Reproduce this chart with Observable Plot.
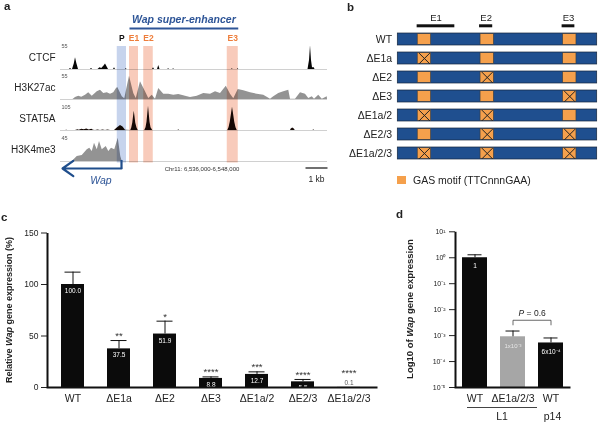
<!DOCTYPE html>
<html><head><meta charset="utf-8">
<script src="https://cdn.jsdelivr.net/npm/d3@7"></script>
<script src="https://cdn.jsdelivr.net/npm/@observablehq/plot@0.6"></script>
<style>
body{margin:0;background:#fff;}
#fig{position:relative;width:600px;height:425px;overflow:hidden;font-family:Arial,"Liberation Sans",sans-serif;color:#222;background:#fff;}
#fig .p{position:absolute;}
#fig .lab{position:absolute;white-space:nowrap;line-height:1;}
.pc [aria-label^="y-axis"] text{font-size:8.5px;}
.pd [aria-label^="y-axis"] text{font-size:7px;}
</style></head><body><div id="fig"></div>
<script>
// ---------------- DATA ----------------
// Panel a: genome tracks (x in 100-bp-ish bins across Chr11: 6,536,000-6,548,000)
const trackSpan = 106.8;
const binsPerKb = 8.8;
const trackNames = ["CTCF", "H3K27ac", "STAT5A", "H3K4me3"];
const trackMax = [55, 55, 105, 45];
const ctcfSignal = [[0,0],[3.5,0],[4,2],[4.5,0],[4.8,0],[5.5,12],[6,26],[6.5,14],[7.2,0],[12,0],[12.4,3],[12.8,0],[15,0],[15.8,4],[16.5,2],[17.5,8],[18,12],[18.6,6],[19.2,0],[21.2,0],[21.6,4],[22,0],[26,0],[26.3,2],[26.6,0],[36.8,0],[37.2,4],[37.6,0],[38.8,0],[39.3,9],[39.8,0],[43,0],[43.2,3],[43.5,0],[45,0],[45.2,2],[45.5,0],[68.5,0],[68.7,2],[69,0],[70.8,0],[71,2],[71.3,0],[99,0],[99.6,20],[100,52],[100.4,20],[100.8,4],[101.5,4],[101.8,0],[106.8,0]];
const h3k27acSignal = [[0,0],[5,0],[6,4.4],[7.3,7.3],[8.5,5],[10,9.5],[11.3,14.7],[12.7,7.3],[14.7,16.9],[16,20.5],[17.3,13.2],[18.7,14.7],[20,11.7],[21.3,14.7],[22.4,24.2],[22.9,26.4],[24.7,5.9],[25.7,1.5],[26.7,28],[27.6,51],[29.3,13.2],[30.3,2.2],[32,39],[33.7,20.5],[35.3,2.2],[36.7,9.5],[38,0.5],[39.3,24.2],[41.3,11.7],[43.3,11.7],[45.3,9.5],[47.3,11],[50,7.3],[52,4.4],[54.7,7.3],[57.3,13.2],[60,11.7],[62,16.9],[64,13.2],[66.3,29.3],[68,11.7],[69.3,1.5],[71.1,22],[73.3,19.1],[76,14.7],[78.7,11.7],[81.3,9.5],[84,0.5],[85.3,5.9],[87.3,13.2],[89.3,16.9],[91.3,20.5],[92,0.5],[94,0.5],[96,14.7],[98,11.7],[99.3,2.2],[100.7,5.9],[101.6,0.5],[103.3,9.5],[104.7,0.5],[106.7,5.9],[106.8,0]];
const stat5aSignal = [[0,0],[2,0],[2.5,1.5],[3,0],[6,0],[7,3],[7.5,1],[8.5,5],[9.5,3],[10.5,6],[11.5,2],[12.5,5],[13.2,1],[14,0],[15,2],[16,0],[17,2],[18,0],[19,2],[20,0.5],[21.6,0.5],[22.7,11],[24,21],[25,15],[26,1],[28.1,0],[28.5,10],[28.9,30],[29.3,65],[29.5,81],[29.7,65],[30.1,30],[30.6,10],[31.1,0],[33.7,0],[34.2,12],[34.6,35],[35,80],[35.2,102],[35.4,80],[35.8,35],[36.2,12],[36.9,0],[47,0],[47.3,3],[47.6,0],[66.9,0],[67.4,12],[67.9,35],[68.5,78],[68.8,98],[69.1,78],[69.7,35],[70.2,12],[70.7,0],[92,0],[92.3,6],[92.9,11],[93.5,6],[93.9,0],[101,0],[101.3,3],[101.6,0],[106.8,0]];
const h3k4me3Signal = [[0,0],[4.7,0],[6.7,9],[8.7,10.8],[10.7,21],[11.7,24],[12.7,18],[13.6,33],[14.7,21],[15.6,36],[16.7,21],[18.3,27],[19.3,18],[20.4,24],[21.7,21],[23.1,42],[24.1,9],[24.7,0],[106.8,0]];
const features = [
  {name: "P", kind: "promoter", start: 22.7, end: 26.4},
  {name: "E1", kind: "enhancer", start: 27.6, end: 31.2},
  {name: "E2", kind: "enhancer", start: 33.3, end: 37.1},
  {name: "E3", kind: "enhancer", start: 66.7, end: 71.1}
];
const gene = {name: "Wap", tss: 24.4, end: 0.8};
const chrLabel = "Chr11: 6,536,000-6,548,000";

// Panel b: deletion schematic (positions along the super-enhancer, 0-100)
const rows = ["WT", "ΔE1a", "ΔE2", "ΔE3", "ΔE1a/2", "ΔE2/3", "ΔE1a/2/3"];
const elementSpans = [{name: "E1", start: 9.7, end: 28.6}, {name: "E2", start: 41.0, end: 47.6}, {name: "E3", start: 82.4, end: 88.8}];
const gasMotifs = [{element: "E1", start: 10.0, end: 16.7}, {element: "E2", start: 41.5, end: 48.2}, {element: "E3", start: 82.9, end: 89.6}];
const deletions = [[], ["E1"], ["E2"], ["E3"], ["E1", "E2"], ["E2", "E3"], ["E1", "E2", "E3"]];
const legendText = "GAS motif (TTCnnnGAA)";

// Panel c: relative Wap expression (%)
const cValues = [100.0, 37.5, 51.9, 8.8, 12.7, 5.5, 0.1];
const cUpper = [112, 45.6, 64.4, 10.3, 15.2, 7.8, null];
const cValueLabels = ["100.0", "37.5", "51.9", "8.8", "12.7", "5.5", "0.1"];
const cStars = ["", "**", "*", "****", "***", "****", "****"];
const cTicks = [0, 50, 100, 150];

// Panel d: log10 Wap expression
const dCats = ["WT|L1", "ΔE1a/2/3|L1", "WT|p14"];
const dValues = [1, 9e-4, 5.2e-4];
const dUpper = [1.3, 1.5e-3, 8.1e-4];
const dValueLabels = ["1", "1x10⁻³", "6x10⁻⁴"];
const dTicks = [10, 1, 0.1, 0.01, 0.001, 1e-4, 1e-5];
const dTickLabels = ["10¹", "10⁰", "10⁻¹", "10⁻²", "10⁻³", "10⁻⁴", "10⁻⁵"];
const pBracket = {from: "ΔE1a/2/3|L1", to: "WT|p14", level: 3.9e-3, foot: 2.5e-3, p: "0.6"};

// ---------------- LAYOUT ----------------
const blue = "#2e5597", orange = "#ee7e3c", navy = "#1f4f8f";
const fig = document.getElementById("fig");
const baseStyle = "font-family: Arial, 'Liberation Sans', sans-serif; background: transparent; overflow: visible; font-size: 10px; color: #222;";
function place(svg, left, top, width, cls, extra) {
  const d = document.createElement("div");
  d.className = "p " + (cls || "");
  d.style.left = left + "px"; d.style.top = top + "px"; d.style.width = width + "px";
  if (extra) d.style.cssText += extra;
  d.appendChild(svg); fig.appendChild(d);
}
function label(html, left, top, css) {
  const d = document.createElement("div");
  d.className = "lab"; d.innerHTML = html;
  d.style.left = left + "px"; d.style.top = top + "px";
  if (css) d.style.cssText += css;
  fig.appendChild(d);
}

// Panel letters
label("a", 4, 0.5, "font-weight:bold;font-size:11.5px;");
label("b", 347, 1.5, "font-weight:bold;font-size:11.5px;");
label("c", 1, 211.5, "font-weight:bold;font-size:11.5px;");
label("d", 396, 209, "font-weight:bold;font-size:11.5px;");

// ---- Panel a ----
const aCommon = {width: 340, marginLeft: 60, marginRight: 13, x: {domain: [0, trackSpan], axis: null}, style: baseStyle};
const promoters = features.filter(d => d.kind === "promoter");
const enhancers = features.filter(d => d.kind === "enhancer");
const superEnh = {label: "Wap super-enhancer", start: enhancers[0].start, end: enhancers[enhancers.length - 1].end};

place(Plot.plot({...aCommon, height: 45, marginTop: 0, marginBottom: 0,
  y: {domain: [0, 45], range: [0, 45], axis: null},
  marks: [
    Plot.text([superEnh], {x: d => (d.start + d.end) / 2, y: () => 19.5, text: "label", fontWeight: "bold", fontStyle: "italic", fill: blue, fontSize: 10.5}),
    Plot.link([superEnh], {x1: "start", x2: "end", y1: () => 28, y2: () => 28, stroke: blue, strokeWidth: 2}),
    Plot.text(promoters, {x: d => (d.start + d.end) / 2, y: () => 37.5, text: "name", fill: "#111", fontWeight: "bold", fontSize: 8.5}),
    Plot.text(enhancers, {x: d => (d.start + d.end) / 2, y: () => 37.5, text: "name", fill: orange, fontWeight: "bold", fontSize: 8.5})
  ]}), 0, 0, 340);

place(Plot.plot({...aCommon, height: 116.5, marginTop: 0, marginBottom: 0,
  marks: [
    Plot.barX(promoters, {x1: "start", x2: "end", fill: "#c7d4ed"}),
    Plot.barX(enhancers, {x1: "start", x2: "end", fill: "#f8cbbb"})
  ]}), 0, 45.5, 340);

const trackSignals = [ctcfSignal, h3k27acSignal, stat5aSignal, h3k4me3Signal];
const trackColors = ["#050505", "#939393", "#160a06", "#939393"];
const trackTops = [39.3, 69.3, 100, 130.5];
trackNames.forEach((name, i) => {
  place(Plot.plot({...aCommon, height: 30, marginTop: 5, marginBottom: 0,
    style: baseStyle + " mix-blend-mode: multiply;",
    y: {domain: [0, trackMax[i]], axis: null},
    marks: [
      Plot.ruleY([0], {stroke: "#c4c4c4", strokeWidth: 0.8}),
      Plot.areaY(trackSignals[i], {x: d => d[0], y: d => d[1], fill: trackColors[i], curve: "linear"}),
      Plot.text([name], {text: d => d, frameAnchor: "left", dx: -5, dy: 1, textAnchor: "end", fontSize: 10, fill: "#222"}),
      Plot.text([trackMax[i]], {text: d => String(d), frameAnchor: "top-left", dx: 1, textAnchor: "start", lineAnchor: "top", fontSize: 5.5, fill: "#555"})
    ]}), 0, trackTops[i], 340, "", "mix-blend-mode:multiply;");
});

const scaleBar = {start: trackSpan - binsPerKb, end: trackSpan, label: "1 kb"};
place(Plot.plot({...aCommon, height: 26, marginTop: 0, marginBottom: 0,
  y: {domain: [0, 26], range: [0, 26], axis: null},
  marks: [
    Plot.ruleX([gene], {x: "tss", y1: () => -1, y2: () => 7.5, stroke: "#1f4e8c", strokeWidth: 2.2}),
    Plot.arrow([gene], {x1: "tss", x2: "end", y1: () => 7, y2: () => 7, stroke: "#1f4e8c", strokeWidth: 2.2, headLength: 9, headAngle: 70}),
    Plot.text([gene], {x: d => (d.tss + d.end) / 2, dx: 9, y: () => 19, text: "name", fontStyle: "italic", fill: blue, fontSize: 10.5}),
    Plot.text([chrLabel], {text: d => d, frameAnchor: "top", dx: 8, dy: 7.3, lineAnchor: "middle", fontSize: 6, fill: "#333"}),
    Plot.link([scaleBar], {x1: "start", x2: "end", y1: () => 6.5, y2: () => 6.5, stroke: "#111", strokeWidth: 1.2}),
    Plot.text([scaleBar], {x: d => (d.start + d.end) / 2, y: () => 17.5, text: "label", fontSize: 8.5, fill: "#222"})
  ]}), 0, 161, 340);

// ---- Panel b ----
const HEADER = " ";
const cells = rows.flatMap((r, i) => gasMotifs.map(m => ({row: r, ...m, deleted: deletions[i].includes(m.element)})));
place(Plot.plot({width: 260, height: 166, marginLeft: 57.3, marginRight: 3.3, marginTop: 10, marginBottom: 3.4,
  style: baseStyle + " font-size: 10.5px;",
  x: {domain: [0, 100], axis: null},
  y: {domain: [HEADER, ...rows], paddingInner: 0.353, paddingOuter: 0.192, align: 0.5, tickSize: 0, tickPadding: 5.6, label: null, tickFormat: d => d === HEADER ? "" : d},
  marks: [
    Plot.barX(elementSpans, {x1: "start", x2: "end", y: () => HEADER, insetTop: 10.3, insetBottom: -1.3, fill: "#111"}),
    Plot.text(elementSpans, {x: d => (d.start + d.end) / 2, y: () => HEADER, dy: -2.5, text: "name", fontSize: 9.5, fill: "#222"}),
    Plot.barX(rows, {x1: () => 0, x2: () => 100, y: d => d, fill: navy, stroke: "#14253d", strokeWidth: 0.7}),
    Plot.barX(cells, {x1: "start", x2: "end", y: "row", insetTop: 0.7, insetBottom: 0.7, fill: "#f5a04c", stroke: "#3a3a3a", strokeWidth: 0.6}),
    Plot.dot(cells.filter(d => d.deleted), {x: d => (d.start + d.end) / 2, y: "row", symbol: "times", r: 5, stroke: "#222", strokeWidth: 1})
  ]}), 340, 0, 260);
label("", 397.3, 176, "width:8.7px;height:8.3px;background:#f5a04c;");
label(legendText, 413, 175, "font-size:10.5px;color:#222;");

// ---- Panel c ----
const cData = rows.map((r, i) => ({cat: r, value: cValues[i], upper: cUpper[i], label: cValueLabels[i], stars: cStars[i]}));
const cw = 385 - 47 - 8, ch = 200 - 7.5 - 38;
place(Plot.plot({width: 385, height: 200, marginLeft: 47, marginRight: 8, marginTop: 7.5, marginBottom: 38,
  style: baseStyle + " font-size: 10.5px;",
  x: {domain: rows, paddingInner: 0.51, paddingOuter: 0.266, align: 0.44, tickSize: 0, tickPadding: 7, label: null},
  y: {domain: [0, 150], ticks: cTicks, tickSize: 6, tickPadding: 3, label: null},
  marks: [
    Plot.barY(cData, {x: "cat", y1: () => 0, y2: "value", fill: "#0b0b0b"}),
    Plot.ruleX(cData.filter(d => d.upper != null), {x: "cat", y1: "value", y2: "upper", stroke: "#111", strokeWidth: 1}),
    Plot.tickY(cData.filter(d => d.upper != null), {x: "cat", y: "upper", stroke: "#111", strokeWidth: 1, insetLeft: 3.5, insetRight: 3.5}),
    Plot.text(cData.filter(d => d.value >= 1), {x: "cat", y: "value", dy: 6.5, text: "label", fill: "white", fontSize: 6.5}),
    Plot.text(cData.filter(d => d.value < 1), {x: "cat", y: "value", dy: -4, text: "label", fill: "#555", fontSize: 6.5}),
    Plot.text(cData.filter(d => d.stars && d.upper != null), {x: "cat", y: "upper", dy: -4.5, text: "stars", fill: "#333", fontSize: 9.5}),
    Plot.text(cData.filter(d => d.stars && d.upper == null), {x: "cat", y: "value", dy: -14, text: "stars", fill: "#333", fontSize: 9.5}),
    Plot.frame({stroke: "#111", strokeWidth: 2, strokeDasharray: `0,${cw + ch},${cw + ch}`})
  ]}), 0, 225, 385, "pc");
label("Relative <i>Wap</i> gene expression (%)", 8.5, 310, "font-weight:bold;font-size:9px;transform:translate(-50%,-50%) rotate(-90deg);");

// ---- Panel d ----
const dData = dCats.map((c, i) => ({cat: c, value: dValues[i], upper: dUpper[i], label: dValueLabels[i]}));
const dw = 210 - 65 - 30, dh = 200 - 6.3 - 38;
place(Plot.plot({width: 210, height: 200, marginLeft: 65, marginRight: 30, marginTop: 6.3, marginBottom: 38,
  style: baseStyle + " font-size: 10.5px;",
  x: {domain: dCats, paddingInner: 0.342, paddingOuter: 0.184, align: 0.5, tickSize: 0, tickPadding: 7, label: null, tickFormat: d => d.split("|")[0]},
  y: {type: "log", domain: [1e-5, 10], ticks: dTicks, tickSize: 6, tickPadding: 4, label: null,
      tickFormat: d => dTickLabels[1 - Math.round(Math.log10(d))]},
  marks: [
    Plot.barY(dData.filter(d => !d.cat.startsWith("Δ")), {x: "cat", y1: () => 1e-5, y2: "value", fill: "#0b0b0b"}),
    Plot.barY(dData.filter(d => d.cat.startsWith("Δ")), {x: "cat", y1: () => 1e-5, y2: "value", fill: "#a6a6a6"}),
    Plot.ruleX(dData, {x: "cat", y1: "value", y2: "upper", stroke: "#111", strokeWidth: 1}),
    Plot.tickY(dData, {x: "cat", y: "upper", stroke: "#111", strokeWidth: 1, insetLeft: 5.5, insetRight: 5.5}),
    Plot.text(dData.filter(d => !d.cat.startsWith("Δ")), {x: "cat", y: "value", dy: 8.5, text: "label", fill: "white", fontSize: 6.5}),
    Plot.text(dData.filter(d => d.cat.startsWith("Δ")), {x: "cat", y: "value", dy: 9, text: "label", fill: "#e6e6e6", fontSize: 6}),
    Plot.link([pBracket], {x1: "from", x2: "to", y1: "level", y2: "level", stroke: "#444", strokeWidth: 0.8}),
    Plot.link([pBracket], {x1: "from", x2: "from", y1: "level", y2: "foot", stroke: "#444", strokeWidth: 0.8}),
    Plot.link([pBracket], {x1: "to", x2: "to", y1: "level", y2: "foot", stroke: "#444", strokeWidth: 0.8}),
    Plot.text([pBracket], {x: "from", y: "level", dx: 5.5, dy: -7.3, text: () => "P", fontStyle: "italic", textAnchor: "start", fontSize: 8.5, fill: "#222"}),
    Plot.text([pBracket], {x: "from", y: "level", dx: 13.6, dy: -7.3, text: d => "= " + d.p, textAnchor: "start", fontSize: 8.5, fill: "#222"}),
    Plot.text(["L1"], {x: () => dCats[1], dx: -11, frameAnchor: "bottom", dy: 29, lineAnchor: "middle", text: d => d, fontSize: 10.5, fill: "#222"}),
    Plot.text(["p14"], {x: () => dCats[2], dx: 1.5, frameAnchor: "bottom", dy: 29, lineAnchor: "middle", text: d => d, fontSize: 10.5, fill: "#222"}),
    Plot.frame({stroke: "#111", strokeWidth: 2, strokeDasharray: `0,${dw + dh},${dw + dh}`})
  ]}), 390, 225, 210, "pd");
label("", 466.7, 406.5, "width:70px;height:1px;background:#444;");
label("Log10 of <i>Wap</i> gene expression", 410, 309, "font-weight:bold;font-size:9.5px;transform:translate(-50%,-50%) rotate(-90deg);");
</script></body></html>
